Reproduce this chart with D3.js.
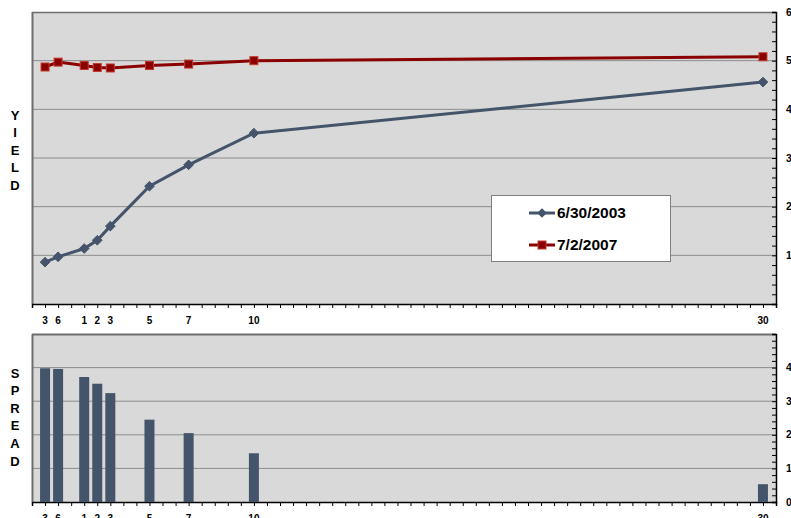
<!DOCTYPE html>
<html><head><meta charset="utf-8">
<script src="https://cdn.jsdelivr.net/npm/d3@7"></script>
<style>
body{margin:0;background:#fff;}
svg{display:block;font-family:"Liberation Sans",Arial,sans-serif;}
</style></head>
<body><svg id="c" width="791" height="518"></svg>
<script>
// ---- data ----
const maturityLabels = ["3","6","1","2","3","5","7","10","30"];
const maturitySlots  = [1, 2, 4, 5, 6, 9, 12, 17, 56]; // category slot on the time axis (57 slots)
const yield2003 = [0.86, 0.97, 1.14, 1.31, 1.60, 2.42, 2.86, 3.51, 4.56];
const yield2007 = [4.87, 4.97, 4.90, 4.86, 4.85, 4.90, 4.93, 5.00, 5.08];
const spread    = [3.98, 3.96, 3.72, 3.52, 3.24, 2.45, 2.05, 1.45, 0.53];
const seriesNames = ["6/30/2003", "7/2/2007"];
const yieldTicks  = [1,2,3,4,5,6];
const spreadTicks = [0,1,2,3,4];

const svg = d3.select("#c");
const L = 32, R = 776;
const top1 = 12, bot1 = 304, top2 = 334, bot2 = 502;
const blue = "#44546a", red = "#8b0000";

const x = d3.scaleLinear().domain([0, 57]).range([L, R]);
const y1 = d3.scaleLinear().domain([0, 6]).range([bot1, top1]);
const y2 = d3.scaleLinear().domain([0, 5]).range([bot2, top2]);

function panel(yS, top, bot, gridVals, tickVals, maxV) {
  const g = svg.append("g");
  g.append("rect").attr("x", L).attr("y", top).attr("width", R - L).attr("height", bot - top)
    .attr("fill", "#d9d9d9");
  g.selectAll("line.grid").data(gridVals).join("line")
    .attr("x1", L).attr("x2", R).attr("y1", d => yS(d)).attr("y2", d => yS(d))
    .attr("stroke", "#8c8c8c").attr("stroke-width", 1);
  g.append("line").attr("x1", L).attr("x2", R).attr("y1", top + 0.5).attr("y2", top + 0.5)
    .attr("stroke", "#6e6e6e").attr("stroke-width", top === top2 ? 2 : 1.5);
  g.append("line").attr("x1", L + 0.5).attr("x2", L + 0.5).attr("y1", top).attr("y2", bot)
    .attr("stroke", "#6e6e6e").attr("stroke-width", 2);
  const minor = d3.range(0, maxV + 0.001, 0.2);
  const ax = d3.axisRight(yS).tickValues(minor).tickSize(-4).tickFormat("");
  const ga = g.append("g").attr("transform", `translate(${R},0)`).call(ax);
  ga.select(".domain").attr("stroke", "#000").attr("stroke-width", 1.5);
  ga.selectAll(".tick line").attr("stroke", "#000");
  g.selectAll("text.rl").data(tickVals).join("text")
    .attr("x", 786).attr("y", d => yS(d)).attr("dy", "0.35em")
    .attr("font-size", 10.5).attr("font-weight", "bold").attr("fill", "#000").text(d => d);
  const bx = d3.axisBottom(x).tickValues(d3.range(0, 58, 1)).tickSize(4).tickFormat("");
  const gb = g.append("g").attr("transform", `translate(0,${bot})`).call(bx);
  gb.select(".domain").attr("stroke", "#000").attr("stroke-width", 1.5);
  gb.selectAll(".tick line").attr("stroke", "#000");
  g.selectAll("text.xl").data(maturityLabels).join("text")
    .attr("x", (d, i) => x(maturitySlots[i])).attr("y", bot + 16).attr("dy", "0.35em")
    .attr("text-anchor", "middle").attr("font-size", 10).attr("font-weight", "bold")
    .attr("fill", "#000").text(d => d);
  return g;
}

panel(y1, top1, bot1, [1,2,3,4,5], yieldTicks, 6);
panel(y2, top2, bot2, [1,2,3,4], spreadTicks, 5);

const line = d3.line().x((d, i) => x(maturitySlots[i])).y(d => y1(d));
svg.append("path").datum(yield2003).attr("d", line).attr("fill", "none")
  .attr("stroke", blue).attr("stroke-width", 3);
svg.append("path").datum(yield2007).attr("d", line).attr("fill", "none")
  .attr("stroke", red).attr("stroke-width", 3);
const diamond = d3.symbol().type(d3.symbolDiamond2).size(60);
svg.selectAll("path.m1").data(yield2003).join("path")
  .attr("transform", (d, i) => `translate(${x(maturitySlots[i])},${y1(d)})`)
  .attr("d", diamond).attr("fill", blue).attr("stroke", blue).attr("stroke-width", 1);
svg.selectAll("rect.m2").data(yield2007).join("rect")
  .attr("x", (d, i) => x(maturitySlots[i]) - 4).attr("y", d => y1(d) - 4)
  .attr("width", 8).attr("height", 8).attr("fill", red).attr("stroke", "#c0392b").attr("stroke-width", 1);

svg.selectAll("rect.bar").data(spread).join("rect")
  .attr("x", (d, i) => x(maturitySlots[i]) - 5).attr("width", 10)
  .attr("y", d => y2(d)).attr("height", d => y2(0) - y2(d))
  .attr("fill", blue);

const lg = svg.append("g");
lg.append("rect").attr("x", 491.5).attr("y", 195.5).attr("width", 179).attr("height", 66)
  .attr("fill", "#fff").attr("stroke", "#808080").attr("stroke-width", 1);
[[blue, "d"], [red, "s"]].forEach((s, k) => {
  const cy = k === 0 ? 213 : 245;
  lg.append("line").attr("x1", 529).attr("x2", 555).attr("y1", cy).attr("y2", cy)
    .attr("stroke", s[0]).attr("stroke-width", 3);
  if (s[1] === "d") {
    lg.append("path").attr("transform", `translate(542,${cy})`).attr("d", diamond).attr("fill", blue);
  } else {
    lg.append("rect").attr("x", 538).attr("y", cy - 4).attr("width", 8).attr("height", 8)
      .attr("fill", red).attr("stroke", "#c0392b");
  }
  lg.append("text").attr("x", 557).attr("y", cy).attr("dy", "0.35em")
    .attr("font-size", 15.5).attr("font-weight", "bold").attr("fill", "#000").text(seriesNames[k]);
});

function vtitle(word, x0, y0, step) {
  svg.selectAll(null).data(word.split("")).join("text")
    .attr("x", x0).attr("y", (d, i) => y0 + i * step).attr("dy", "0.35em")
    .attr("text-anchor", "middle").attr("font-size", 13).attr("font-weight", "bold")
    .attr("fill", "#000").text(d => d);
}
vtitle("YIELD", 15, 115, 17.5);
vtitle("SPREAD", 15, 373, 17.6);
</script></body></html>
